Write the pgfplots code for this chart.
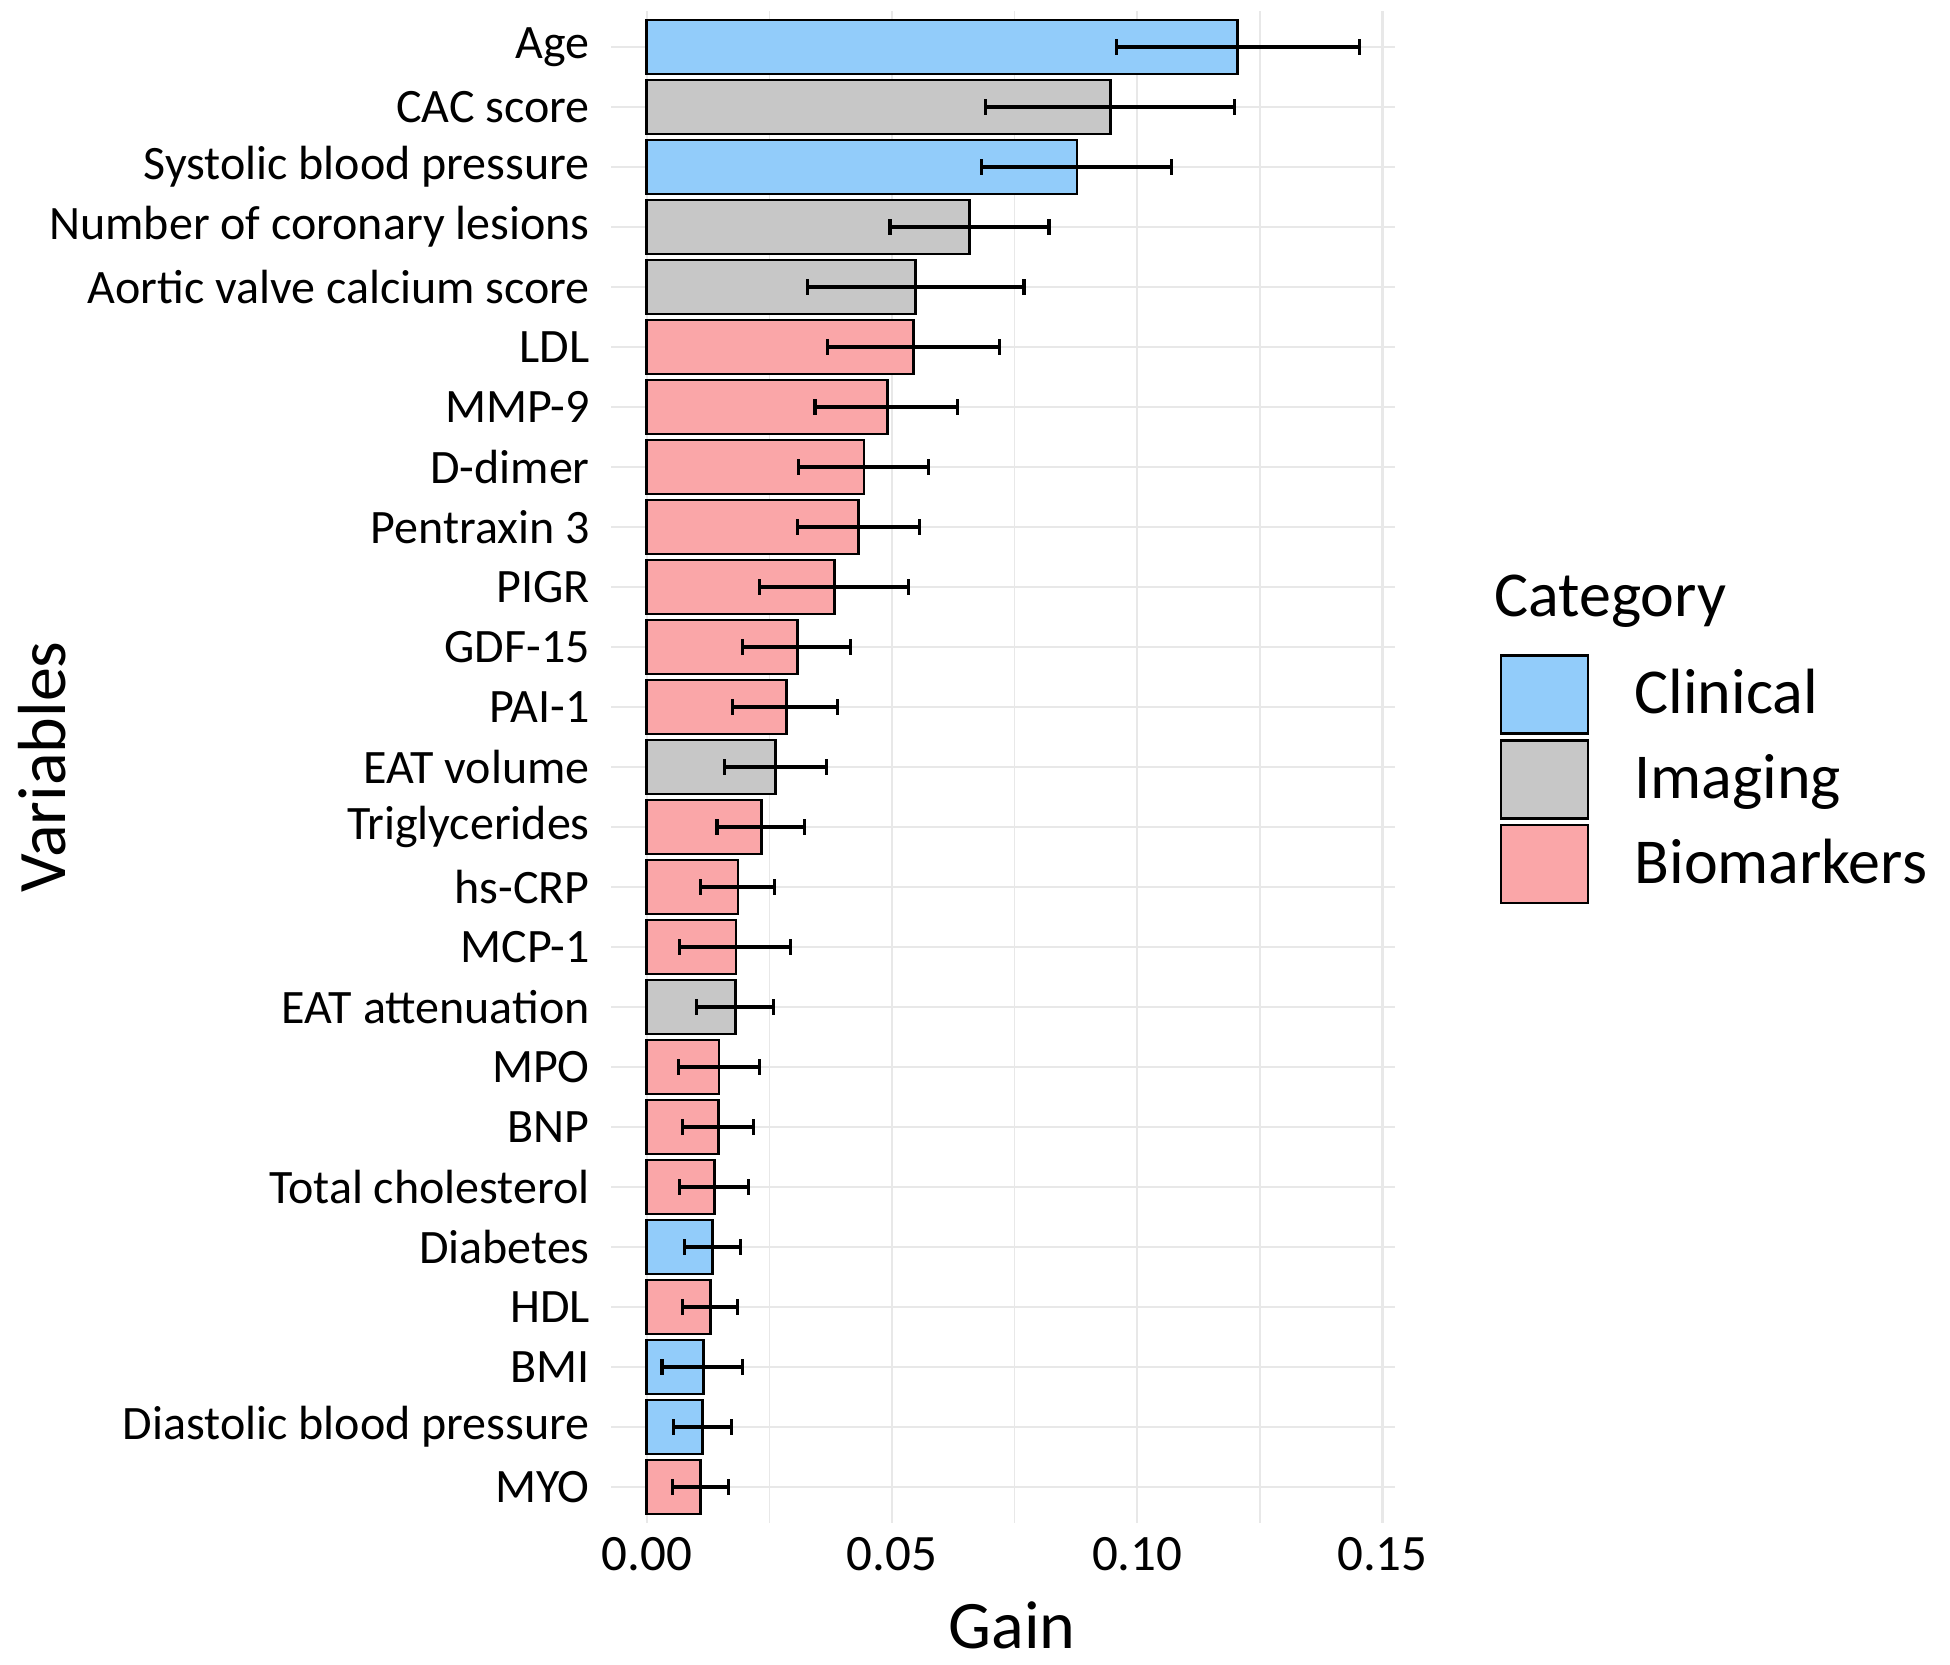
\documentclass[border=0pt]{standalone}
\usepackage{fontspec}
\setmainfont{Carlito}
\usepackage{pgfplots}
\usepackage{pgfplotstable}
\pgfplotsset{compat=1.18}

\definecolor{clin}{RGB}{146,204,250}
\definecolor{imag}{RGB}{199,199,199}
\definecolor{biom}{RGB}{250,166,168}
\definecolor{gridc}{RGB}{232,232,232}

% idx counts rows from the bottom (MYO = 0, Age = 24)
\pgfplotstableread{
idx gain   lo     hi
24  0.1205 0.0958 0.1453
22  0.0877 0.0682 0.1070
4   0.0134 0.0076 0.0191
2   0.0115 0.0031 0.0195
1   0.0114 0.0055 0.0172
}\clinical

\pgfplotstableread{
idx gain   lo     hi
23  0.0946 0.0690 0.1199
21  0.0658 0.0496 0.0820
20  0.0548 0.0328 0.0769
12  0.0263 0.0158 0.0366
8   0.0180 0.0101 0.0258
}\imaging

\pgfplotstableread{
idx gain   lo     hi
19  0.0544 0.0369 0.0719
18  0.0490 0.0343 0.0634
17  0.0443 0.0309 0.0575
16  0.0432 0.0307 0.0556
15  0.0382 0.0229 0.0533
14  0.0307 0.0195 0.0415
13  0.0284 0.0174 0.0389
11  0.0233 0.0143 0.0322
10  0.0186 0.0109 0.0260
9   0.0182 0.0067 0.0293
7   0.0147 0.0065 0.0230
6   0.0146 0.0073 0.0218
5   0.0138 0.0067 0.0207
3   0.0129 0.0072 0.0185
0   0.0109 0.0053 0.0166
}\biomarkers

\pgfplotsset{
  errstyle/.style={
    error bars/.cd, x dir=both, x explicit,
    error bar style={line width=0.8pt, black},
    error mark options={rotate=90, mark size=1.9pt, line width=0.8pt, black},
  },
}

\begin{document}
\begin{tikzpicture}
\path[use as bounding box] (-152.8pt,-35.5pt) rectangle (334.7pt,380.75pt);
\begin{axis}[
    at={(0pt,0pt)}, anchor=south west,
    scale only axis, width=196pt, height=378pt,
    xbar, bar width=0.9, bar shift=0pt,
    xmin=-0.00727, xmax=0.1526,
    ymin=-0.6, ymax=24.6,
    xtick={0,0.05,0.1,0.15},
    xticklabels={0.00,0.05,0.10,0.15},
    minor xtick={0.025,0.075,0.125},
    ytick={0,...,24},
    yticklabels={MYO, Diastolic blood pressure, BMI, HDL, Diabetes,
      Total cholesterol, BNP, MPO, EAT attenuation, MCP-1, hs-CRP,
      Triglycerides, EAT volume, PAI-1, GDF-15, PIGR, Pentraxin 3,
      D-dimer, MMP-9, LDL, Aortic valve calcium score,
      Number of coronary lesions, Systolic blood pressure, CAC score, Age},
    xmajorgrids, xminorgrids, ymajorgrids,
    major grid style={gridc, line width=0.55pt},
    minor grid style={gridc, line width=0.35pt},
    axis line style={draw=none},
    tick style={draw=none},
    /pgf/number format/assume math mode=true,
    xticklabel style={font=\fontsize{12.75}{15}\selectfont, anchor=north,
      inner sep=0pt, yshift=-3.5pt},
    yticklabel style={font=\fontsize{12}{14}\selectfont, anchor=east,
      inner sep=0pt, xshift=-0.9pt},
    xlabel={Gain},
    ylabel={Variables},
    xlabel style={font=\fontsize{17}{20}\selectfont,
      at={(axis description cs:0.5,0)}, anchor=north, inner sep=0pt,
      yshift=-19.5pt, xshift=2.25pt},
    ylabel style={font=\fontsize{17}{20}\selectfont,
      at={(axis description cs:-0.6963,0.5)}, anchor=base, inner sep=0pt},
    legend image code/.code={
      \draw[#1, draw=black, line width=0.7pt] (0pt,-9.75pt) rectangle (21.75pt,9.75pt);},
    legend cell align=left,
    legend style={
      at={(axis description cs:1.1331,0.5747)}, anchor=north west,
      draw=none, fill=none, inner sep=0pt, outer sep=0pt,
      row sep=1pt,
      nodes={inner sep=0pt},
      font=\fontsize{16}{19}\selectfont,
      /tikz/every odd column/.append style={column sep=11.3pt},
    },
]
\addplot[fill=clin, draw=black, line width=0.7pt, errstyle]
  table[x=gain, y=idx,
    x error plus expr=\thisrow{hi}-\thisrow{gain},
    x error minus expr=\thisrow{gain}-\thisrow{lo}] {\clinical};
\addplot[fill=imag, draw=black, line width=0.7pt, errstyle]
  table[x=gain, y=idx,
    x error plus expr=\thisrow{hi}-\thisrow{gain},
    x error minus expr=\thisrow{gain}-\thisrow{lo}] {\imaging};
\addplot[fill=biom, draw=black, line width=0.7pt, errstyle]
  table[x=gain, y=idx,
    x error plus expr=\thisrow{hi}-\thisrow{gain},
    x error minus expr=\thisrow{gain}-\thisrow{lo}] {\biomarkers};
\legend{Clinical,Imaging,Biomarkers}
\end{axis}
% legend title; the axis box has its lower left corner at the origin
\node[anchor=base west, inner sep=0pt, font=\fontsize{16}{19}\selectfont]
  at (220.6pt,226.6pt) {Category};
\end{tikzpicture}
\end{document}
